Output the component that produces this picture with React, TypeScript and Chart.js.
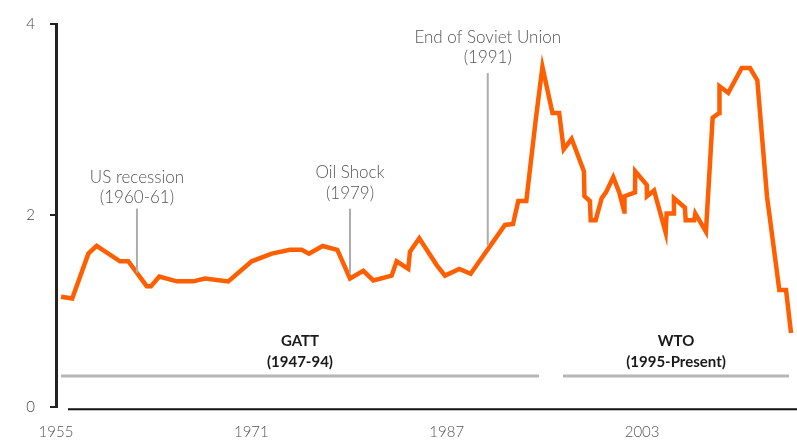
import React, { useEffect, useRef } from "react";
import { Chart, registerables } from "chart.js";

Chart.register(...registerables);

const years = [
  1955.41, 1956.33, 1957.65, 1958.33, 1960.24, 1960.92, 1962.43, 1962.78, 1963.46, 1964.89,
  1966.24, 1967.2, 1969.11, 1971.03, 1972.67, 1974.16, 1975.12, 1975.72, 1976.84, 1978.04,
  1979.08, 1980.17, 1980.99, 1982.49, 1982.9, 1983.85, 1983.99, 1984.75, 1986.18, 1986.86,
  1988.03, 1988.96, 1991.77, 1992.43, 1992.86, 1993.52, 1994.31, 1994.84, 1995.66, 1996.21,
  1996.58, 1997.23, 1998.24, 1998.28, 1998.73, 1998.79, 1999.2, 1999.69, 2000.04, 2000.64,
  2001.13, 2001.54, 2001.56, 2002.42, 2002.44, 2003.38, 2003.4, 2003.98, 2004.93, 2005.01,
  2005.56, 2005.61, 2006.51, 2006.57, 2007.27, 2007.36, 2008.23, 2008.78, 2009.32, 2009.34,
  2010.06, 2011.16, 2011.84, 2012.44, 2013.23, 2014.24, 2014.79, 2015.2,
];

const values = [
  1.15, 1.13, 1.6, 1.68, 1.52, 1.52, 1.26, 1.26, 1.36, 1.31,
  1.31, 1.34, 1.31, 1.52, 1.6, 1.64, 1.64, 1.6, 1.68, 1.64,
  1.34, 1.42, 1.32, 1.37, 1.52, 1.44, 1.62, 1.76, 1.48, 1.37,
  1.44, 1.39, 1.9, 1.91, 2.15, 2.15, 3.02, 3.55, 3.07, 3.07,
  2.69, 2.8, 2.46, 2.2, 2.15, 1.95, 1.95, 2.18, 2.24, 2.4,
  2.24, 2.04, 2.2, 2.24, 2.46, 2.32, 2.2, 2.26, 1.82, 2.02,
  2.02, 2.18, 2.08, 1.95, 1.95, 2.02, 1.83, 3.02, 3.07, 3.35,
  3.28, 3.54, 3.54, 3.41, 2.2, 1.22, 1.22, 0.77,
];

const xTickYears = [1955, 1971, 1987, 2003];
const yTickValues = [0, 2, 4];

const eventLabels = [["US recession", "(1960-61)"], ["Oil Shock", "(1979)"], ["End of Soviet Union", "(1991)"]];
const eventYears = [1961.63, 1979.08, 1990.36];
const eventTop = [2.07, 2.07, 3.487];
const eventBottom = [1.4, 1.393, 1.684];
const eventTextY = [2.4, 2.445, 3.861];

const periodLabels = [["GATT", "(1947-94)"], ["WTO", "(1995-Present)"]];
const periodStart = [1955.41, 1996.52];
const periodEnd = [1994.56, 2015.03];
const periodCenter = [1974.98, 2005.78];

const FONT = "Lato, 'Open Sans', sans-serif";

const annotationPlugin = {
  id: "annotations",
  afterDatasetsDraw(chart: any) {
    const { ctx, scales, chartArea } = chart;
    const xs = scales.x;
    const ys = scales.y;
    ctx.save();
    // x-axis baseline
    ctx.strokeStyle = "#111";
    ctx.lineWidth = 2;
    ctx.beginPath();
    ctx.moveTo(chartArea.left + 12, chartArea.bottom + 2.5);
    ctx.lineTo(chart.width, chartArea.bottom + 2.5);
    ctx.stroke();

    // event markers
    ctx.textAlign = "center";
    ctx.textBaseline = "middle";
    for (let i = 0; i < eventYears.length; i++) {
      const x = xs.getPixelForValue(eventYears[i]);
      ctx.strokeStyle = "#acacac";
      ctx.lineWidth = 2;
      ctx.beginPath();
      ctx.moveTo(x, ys.getPixelForValue(eventTop[i]));
      ctx.lineTo(x, ys.getPixelForValue(eventBottom[i]));
      ctx.stroke();
      ctx.fillStyle = "#555";
      ctx.font = `300 17px ${FONT}`;
      const ty = ys.getPixelForValue(eventTextY[i]);
      ctx.fillText(eventLabels[i][0], x, ty);
      ctx.fillText(eventLabels[i][1], x, ty + 20.5);
    }

    // periods
    for (let i = 0; i < periodLabels.length; i++) {
      const y = ys.getPixelForValue(0.32);
      ctx.strokeStyle = "#b5b5b5";
      ctx.lineWidth = 3;
      ctx.beginPath();
      ctx.moveTo(xs.getPixelForValue(periodStart[i]), y);
      ctx.lineTo(xs.getPixelForValue(periodEnd[i]), y);
      ctx.stroke();
      const cx = xs.getPixelForValue(periodCenter[i]);
      ctx.fillStyle = "#1a1a1a";
      ctx.font = `bold 15px ${FONT}`;
      ctx.fillText(periodLabels[i][0], cx, ys.getPixelForValue(0.69));
      ctx.fillText(periodLabels[i][1], cx, ys.getPixelForValue(0.47));
    }
    ctx.restore();
  },
};

export default function App() {
  const ref = useRef<HTMLCanvasElement>(null);
  useEffect(() => {
    if (!ref.current) return;
    const chart = new Chart(ref.current, {
      type: "line",
      data: {
        datasets: [
          {
            data: years.map((y, i) => ({ x: y, y: values[i] })),
            borderColor: "#ff5f00",
            borderWidth: 4.5,
            pointRadius: 0,
            tension: 0,
            fill: false,
          },
        ],
      },
      options: {
        animation: false,
        responsive: false,
        maintainAspectRatio: false,
        layout: { padding: { top: 22.7, right: 2.3, left: 0, bottom: 0 } },
        plugins: { legend: { display: false }, tooltip: { enabled: false } },
        scales: {
          x: {
            type: "linear",
            min: 1955,
            max: 2015.5,
            afterBuildTicks: (s: any) => {
              s.ticks = xTickYears.map((v) => ({ value: v }));
            },
            afterFit: (s: any) => {
              s.height = 33.3;
            },
            grid: { display: false, drawTicks: false },
            border: { display: false },
            ticks: {
              padding: 16,
              color: "#555",
              font: { family: FONT, size: 15, weight: "300" as any },
              callback: (v: any) => String(v),
              maxRotation: 0,
            },
          },
          y: {
            min: 0,
            max: 4,
            afterBuildTicks: (s: any) => {
              s.ticks = yTickValues.map((v) => ({ value: v }));
            },
            afterFit: (s: any) => {
              s.width = 56;
            },
            grid: {
              display: true,
              drawOnChartArea: false,
              drawTicks: true,
              tickLength: 6,
              color: "#222",
              lineWidth: 2,
            },
            border: { display: true, color: "#222", width: 3 },
            ticks: {
              padding: 15,
              color: "#444",
              font: { family: FONT, size: 15, weight: "300" as any },
            },
          },
        },
      },
      plugins: [annotationPlugin],
    });
    return () => chart.destroy();
  }, []);
  return (
    <div style={{ position: "fixed", left: 0, top: 0, width: 797, height: 440, background: "#fff" }}>
      <canvas ref={ref} width={797} height={440} style={{ width: 797, height: 440 }} />
    </div>
  );
}
